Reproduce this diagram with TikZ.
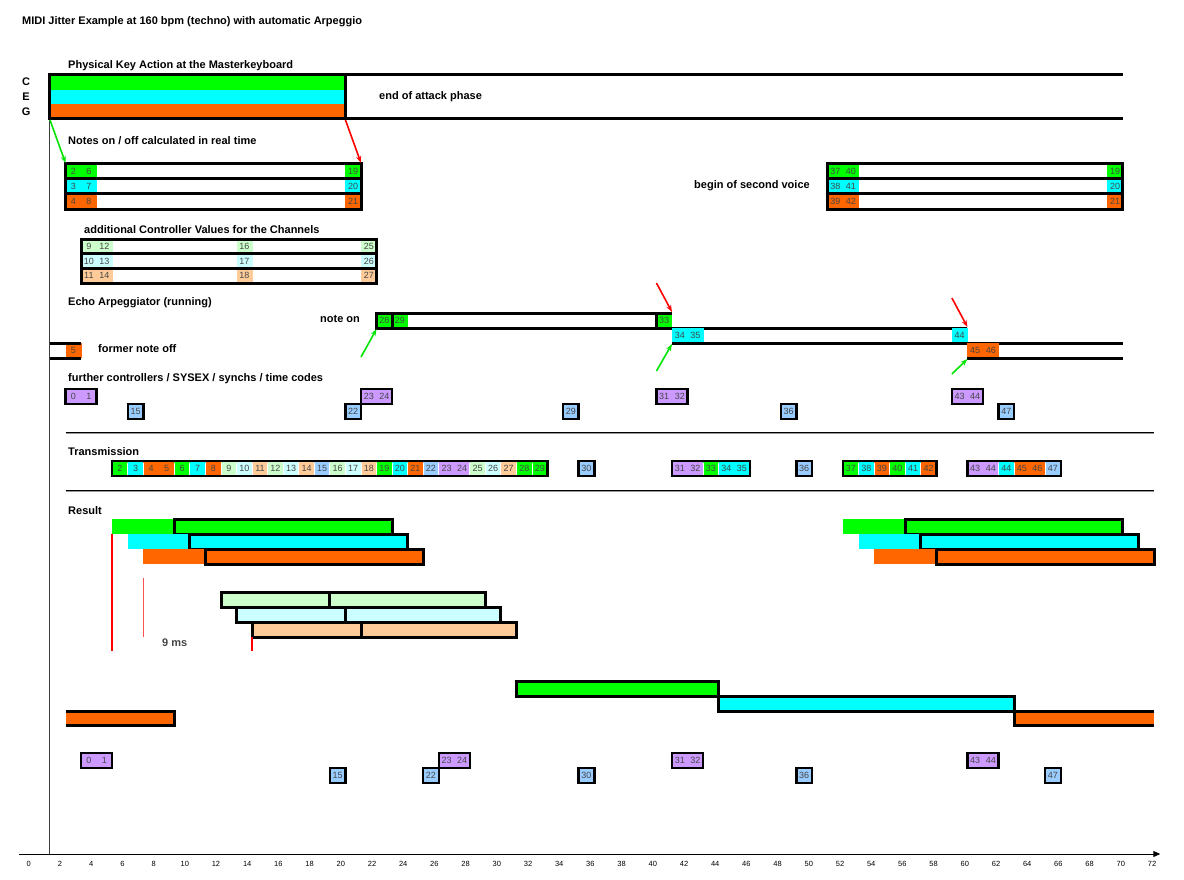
\documentclass[tikz,border=0pt]{standalone}
\usepackage{fontspec}
\setmainfont{Liberation Sans}
\usetikzlibrary{arrows.meta}
\definecolor{cG}{RGB}{0,255,0}
\definecolor{cC}{RGB}{0,255,255}
\definecolor{cO}{RGB}{255,102,0}
\definecolor{lG}{RGB}{204,255,204}
\definecolor{lC}{RGB}{204,255,255}
\definecolor{lO}{RGB}{255,204,153}
\definecolor{cB}{RGB}{153,204,255}
\definecolor{cP}{RGB}{204,153,255}
\definecolor{numgray}{RGB}{70,70,70}
\definecolor{axisgray}{RGB}{60,60,60}
\definecolor{sepgray}{RGB}{150,150,150}
\definecolor{arrG}{RGB}{0,230,0}
\definecolor{arrR}{RGB}{255,0,0}
\definecolor{thinred}{RGB}{255,80,80}
% #1 name, #2 k, #3 ytop, #4 ybot, #5 colour, #6 labels
\newcommand\cells[6]{%
  \foreach \t [count=\i from 0] in {#6} {%
    \fill[#5] ({#2+\i},#3) rectangle ({#2+\i+1.03},#4);
    \node[num] (#1-\i) at ({#2+\i+0.5},{(#3+#4)/2}) {\t};
  }}
% #1 name, #2 k, #3 ytop, #4 ncells, #5 colour, #6 labels
\newcommand\tagbox[6]{%
  \cells{#1}{#2}{#3}{#3+15}{#5}{#6}%
  \draw[frame] (#2,#3) rectangle ({#2+#4},{#3+15});}
\begin{document}
\begin{tikzpicture}[x=15.55pt,y=-1pt,
  lbl/.style={font=\fontsize{11}{13}\selectfont\bfseries, anchor=west, inner sep=0pt},
  num/.style={font=\fontsize{9}{10}\selectfont, text=numgray, inner sep=0pt},
  axl/.style={font=\fontsize{7.5}{8}\selectfont, inner sep=0pt},
  frame/.style={line width=2.5pt},
  bar/.style={line width=3pt},
  garrow/.style={draw=arrG, line width=1.6pt, -{Stealth[length=7pt,width=5pt]}},
  rarrow/.style={draw=arrR, line width=1.6pt, -{Stealth[length=7pt,width=5pt]}}]
\useasboundingbox (-3.2154,0) rectangle (72.926,880);
\fill[white] (-3.2154,0) rectangle (72.926,880);

\node[lbl] (title) at (-1.80,22) {MIDI Jitter Example at 160 bpm (techno) with automatic Arpeggio};

% vertical axis
\draw[axisgray, line width=1pt] (0,119) -- (0,854);

% ---- physical key action
\node[lbl] (phys) at (1.1576,66) {Physical Key Action at the Masterkeyboard};
\node[lbl, anchor=center] (kC) at (-1.54,82) {C};
\node[lbl, anchor=center] (kE) at (-1.54,97) {E};
\node[lbl, anchor=center] (kG) at (-1.54,112) {G};
\fill[cG] (0,75) rectangle (19,89.7);
\fill[cC] (0,89.7) rectangle (19,104.3);
\fill[cO] (0,104.3) rectangle (19,119);
\draw[bar] (69,75) -- (0,75) -- (0,119) -- (69,119);
\draw[bar] (19,75) -- (19,119);
\node[lbl] (eoa) at (21.16,97) {end of attack phase};
\coordinate (ka) at (0,120);
\coordinate (kb) at (19,120);

% ---- notes on/off
\node[lbl] (notes) at (1.1576,141) {Notes on / off calculated in real time};
\cells{na}{1}{164}{179}{cG}{2,6}
\cells{nb}{19}{164}{179}{cG}{19}
\cells{nc}{1}{179}{194}{cC}{3,7}
\cells{nd}{19}{179}{194}{cC}{20}
\cells{ne}{1}{194}{209}{cO}{4,8}
\cells{nf}{19}{194}{209}{cO}{21}
\draw[bar] (1,164) rectangle (20,209);
\draw[bar] (1,179) -- (20,179);
\draw[bar] (1,194) -- (20,194);
\coordinate (na) at (1,163);
\coordinate (nb) at (20,163);
\draw[garrow] (ka) -- (na);
\draw[rarrow] (kb) -- (nb);

% ---- second voice
\node[lbl, anchor=east] (sv) at (48.87,186) {begin of second voice};
\cells{sa}{50}{164}{179}{cG}{37,40}
\cells{sb}{68}{164}{179}{cG}{19}
\cells{sc}{50}{179}{194}{cC}{38,41}
\cells{sd}{68}{179}{194}{cC}{20}
\cells{se}{50}{194}{209}{cO}{39,42}
\cells{sf}{68}{194}{209}{cO}{21}
\draw[bar] (50,164) rectangle (69,209);
\draw[bar] (50,179) -- (69,179);
\draw[bar] (50,194) -- (69,194);

% ---- controller values
\node[lbl] (ctl) at (2.186,230) {additional Controller Values for the Channels};
\cells{ca}{2}{239}{253.7}{lG}{9,12}
\cells{cb}{12}{239}{253.7}{lG}{16}
\cells{cc}{20}{239}{253.7}{lG}{25}
\cells{cd}{2}{253.7}{268.3}{lC}{10,13}
\cells{ce}{12}{253.7}{268.3}{lC}{17}
\cells{cf}{20}{253.7}{268.3}{lC}{26}
\cells{cg}{2}{268.3}{283}{lO}{11,14}
\cells{ch}{12}{268.3}{283}{lO}{18}
\cells{ci}{20}{268.3}{283}{lO}{27}
\draw[bar] (2,239) rectangle (21,283);
\draw[bar] (2,253.7) -- (21,253.7);
\draw[bar] (2,268.3) -- (21,268.3);

% ---- echo arpeggiator
\node[lbl] (echo) at (1.1576,303) {Echo Arpeggiator (running)};
\node[lbl] (noteon) at (17.36,319) {note on};
\cells{ea}{21}{313}{328}{cG}{28}
\cells{eb}{22}{313}{328}{cG}{29}
\cells{ec}{39}{313}{328}{cG}{33}
\draw[bar] (40,313) -- (21,313) -- (21,328) -- (59,328);
\draw[bar] (22,313) -- (22,328);
\draw[bar] (39,313) -- (39,328);
\cells{ed}{40}{328}{343}{cC}{34,35}
\cells{ee}{58}{328}{343}{cC}{44}
\draw[bar] (40,343) -- (69,343);
\cells{ef}{59}{343}{358}{cO}{45,46}
\draw[bar] (59,358) -- (69,358);
\cells{eg}{1}{343}{358}{cO}{5}
\draw[bar] (0,343) -- (2,343);
\draw[bar] (0,358) -- (2,358);
\node[lbl] (fno) at (3.087,349) {former note off};
\coordinate (g1s) at (20,357);  \coordinate (g1e) at (21,329);
\coordinate (r1s) at (39,283);  \coordinate (r1e) at (40,312);
\coordinate (g2s) at (39,371);  \coordinate (g2e) at (40,344);
\coordinate (r2s) at (58,298);  \coordinate (r2e) at (59,327);
\coordinate (g3s) at (58,374);  \coordinate (g3e) at (59,359);
\draw[garrow] (g1s) -- (g1e);
\draw[rarrow] (r1s) -- (r1e);
\draw[garrow] (g2s) -- (g2e);
\draw[rarrow] (r2s) -- (r2e);
\draw[garrow] (g3s) -- (g3e);

% ---- further controllers
\node[lbl] (furth) at (1.1576,379) {further controllers / SYSEX / synchs / time codes};
\tagbox{fa}{1}{389}{2}{cP}{0,1}
\tagbox{fb}{5}{404}{1}{cB}{15}
\tagbox{fc}{19}{404}{1}{cB}{22}
\tagbox{fd}{20}{389}{2}{cP}{23,24}
\tagbox{fe}{33}{404}{1}{cB}{29}
\tagbox{ff}{39}{389}{2}{cP}{31,32}
\tagbox{fg}{47}{404}{1}{cB}{36}
\tagbox{fh}{58}{389}{2}{cP}{43,44}
\tagbox{fi}{61}{404}{1}{cB}{47}

% separators
\draw[black, line width=1pt] (1,432.5) -- (71,432.5);
\draw[sepgray, line width=1pt] (1,433.5) -- (71,433.5);
\draw[black, line width=1pt] (1,490.5) -- (71,490.5);
\draw[sepgray, line width=1pt] (1,491.5) -- (71,491.5);

% ---- transmission
\node[lbl] (trans) at (1.1576,452) {Transmission};
\foreach \c/\t [count=\i from 0] in {cG/2,cC/3,cO/4,cO/5,cG/6,cC/7,cO/8,lG/9,lC/10,lO/11,lG/12,lC/13,lO/14,cB/15,lG/16,lC/17,lO/18,cG/19,cC/20,cO/21,cB/22,cP/23,cP/24,lG/25,lC/26,lO/27,cG/28,cG/29} {
  \fill[\c] ({4+\i},461) rectangle ({4+\i+1.03},476);
  \node[num] (ta-\i) at ({4+\i+0.5},468.5) {\t};
}
\foreach \j in {1,2,4,5,6,7,8,9,10,11,12,13,14,15,16,17,18,19,20,21,23,24,25,26,27}
  \draw[white, line width=1pt] ({4+\j},462.5) -- ({4+\j},474.5);
\draw[frame] (4,461) rectangle (32,476);
\tagbox{tb}{34}{461}{1}{cB}{30}
\foreach \c/\t [count=\i from 0] in {cP/31,cP/32,cG/33,cC/34,cC/35} {
  \fill[\c] ({40+\i},461) rectangle ({40+\i+1.03},476);
  \node[num] (tc-\i) at ({40+\i+0.5},468.5) {\t};
}
\foreach \j in {2,3}
  \draw[white, line width=1pt] ({40+\j},462.5) -- ({40+\j},474.5);
\draw[frame] (40,461) rectangle (45,476);
\tagbox{td}{48}{461}{1}{cB}{36}
\foreach \c/\t [count=\i from 0] in {cG/37,cC/38,cO/39,cG/40,cC/41,cO/42} {
  \fill[\c] ({51+\i},461) rectangle ({51+\i+1.03},476);
  \node[num] (te-\i) at ({51+\i+0.5},468.5) {\t};
}
\foreach \j in {1,2,3,4,5}
  \draw[white, line width=1pt] ({51+\j},462.5) -- ({51+\j},474.5);
\draw[frame] (51,461) rectangle (57,476);
\foreach \c/\t [count=\i from 0] in {cP/43,cP/44,cC/44,cO/45,cO/46,cB/47} {
  \fill[\c] ({59+\i},461) rectangle ({59+\i+1.03},476);
  \node[num] (tf-\i) at ({59+\i+0.5},468.5) {\t};
}
\foreach \j in {2,3,5}
  \draw[white, line width=1pt] ({59+\j},462.5) -- ({59+\j},474.5);
\draw[frame] (59,461) rectangle (65,476);

% ---- result
\node[lbl] (res) at (1.1576,511) {Result};
\fill[cG] (4,519) rectangle (8,534);
\filldraw[fill=cG, bar] (8,519) rectangle (22,534);
\fill[cC] (5,534) rectangle (9,549);
\filldraw[fill=cC, bar] (9,534) rectangle (23,549);
\fill[cO] (6,549) rectangle (10,564);
\filldraw[fill=cO, bar] (10,549) rectangle (24,564);
\fill[cG] (51,519) rectangle (55,534);
\filldraw[fill=cG, bar] (55,519) rectangle (69,534);
\fill[cC] (52,534) rectangle (56,549);
\filldraw[fill=cC, bar] (56,534) rectangle (70,549);
\fill[cO] (53,549) rectangle (57,564);
\filldraw[fill=cO, bar] (57,549) rectangle (71,564);
\filldraw[fill=lG, bar] (11,592) rectangle (28,607);
\draw[bar] (18,592) -- (18,607);
\filldraw[fill=lC, bar] (12,607) rectangle (29,622);
\draw[bar] (19,607) -- (19,622);
\filldraw[fill=lO, bar] (13,622) rectangle (30,637);
\draw[bar] (20,622) -- (20,637);
\draw[red, line width=2pt] (4,534) -- (4,651);
\draw[thinred, line width=1.2pt] (6,578) -- (6,637);
\draw[red, line width=2pt] (13,637) -- (13,651);
\node[lbl, text=numgray] (ms) at (7.2,643) {9 ms};

% ---- lower bars
\fill[cO] (1,711) rectangle (8,725);
\draw[bar] (1,711) -- (8,711) -- (8,725) -- (1,725);
\filldraw[fill=cG, bar] (30,681) rectangle (43,696);
\filldraw[fill=cC, bar] (43,696) rectangle (62,711);
\fill[cO] (62,711) rectangle (71,725);
\draw[bar] (71,711) -- (62,711) -- (62,725) -- (71,725);

\tagbox{la}{2}{753}{2}{cP}{0,1}
\tagbox{lb}{18}{768}{1}{cB}{15}
\tagbox{lc}{24}{768}{1}{cB}{22}
\tagbox{ld}{25}{753}{2}{cP}{23,24}
\tagbox{le}{34}{768}{1}{cB}{30}
\tagbox{lf}{40}{753}{2}{cP}{31,32}
\tagbox{lg}{48}{768}{1}{cB}{36}
\tagbox{lh}{59}{753}{2}{cP}{43,44}
\tagbox{li}{64}{768}{1}{cB}{47}

% ---- time axis
\coordinate (ax0) at (-1.9936,854);
\coordinate (ax1) at (71.4,854);
\draw[line width=1pt, -{Triangle[length=7pt,width=6pt]}] (ax0) -- (ax1);
\foreach \n in {0,2,...,72}
  \node[axl] (tick\n) at ({(28.8+15.6*\n-50)/15.55},864) {\n};
\end{tikzpicture}
\end{document}
